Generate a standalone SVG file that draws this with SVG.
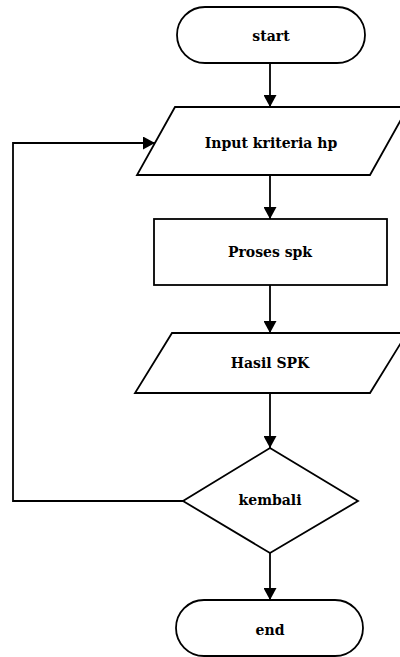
<svg xmlns="http://www.w3.org/2000/svg" width="400" height="657" viewBox="0 0 400 657">
  <style>
    .shape { fill: #fff; stroke: #000; stroke-width: 1.8; }
    .edge { fill: none; stroke: #000; stroke-width: 1.8; }
    .label { font-family: "DejaVu Serif", "Liberation Serif", serif; font-weight: bold; font-size: 14px; fill: #000; text-anchor: middle; }
  </style>
  <defs>
    <marker id="arrow" viewBox="0 0 12 13" refX="12" refY="6.5" markerWidth="12" markerHeight="13" markerUnits="userSpaceOnUse" orient="auto">
      <path d="M0,0 L12,6.5 L0,13 z" fill="#000"/>
    </marker>
  </defs>
  <rect width="400" height="657" fill="#fff"/>

  <!-- flow lines -->
  <g id="connectors">
    <line class="edge" x1="270" y1="63" x2="270" y2="107" marker-end="url(#arrow)"/>
    <line class="edge" x1="270" y1="175" x2="270" y2="219" marker-end="url(#arrow)"/>
    <line class="edge" x1="270" y1="285" x2="270" y2="333" marker-end="url(#arrow)"/>
    <line class="edge" x1="270" y1="393" x2="270" y2="448" marker-end="url(#arrow)"/>
    <line class="edge" x1="270" y1="553" x2="270" y2="600" marker-end="url(#arrow)"/>
    <!-- loop back from the decision to the input step -->
    <polyline class="edge" points="183,501 13,501 13,143 155,143" marker-end="url(#arrow)"/>
  </g>

  <g id="start">
    <rect class="shape" x="177" y="7" width="188" height="56" rx="28" ry="28"/>
    <text class="label" x="271" y="41">start</text>
  </g>

  <g id="input">
    <polygon class="shape" points="175,107 408,107 370,175 137,175"/>
    <text class="label" x="271" y="148">Input kriteria hp</text>
  </g>

  <g id="proses">
    <rect class="shape" x="154" y="219" width="233" height="66"/>
    <text class="label" x="270" y="257">Proses spk</text>
  </g>

  <g id="hasil">
    <polygon class="shape" points="172,333 407,333 370,393 135,393"/>
    <text class="label" x="270" y="368">Hasil SPK</text>
  </g>

  <g id="kembali">
    <polygon class="shape" points="270,448 358,501 270,553 183,501"/>
    <text class="label" x="270" y="505">kembali</text>
  </g>

  <g id="end">
    <rect class="shape" x="176" y="600" width="187" height="56" rx="28" ry="28"/>
    <text class="label" x="270" y="635">end</text>
  </g>
</svg>
